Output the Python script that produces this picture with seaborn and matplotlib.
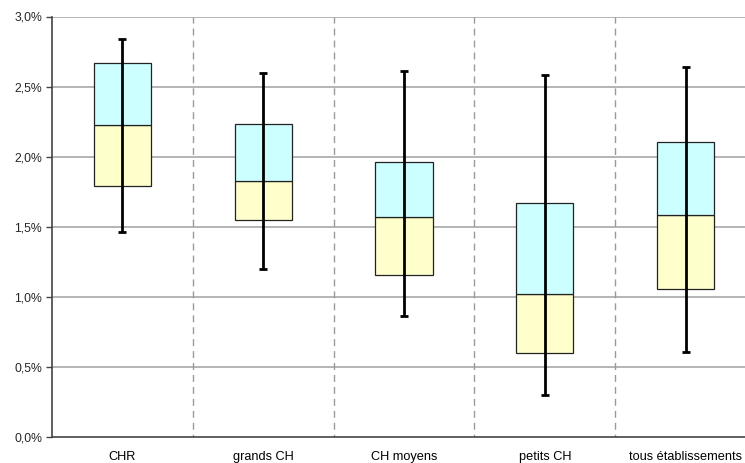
import numpy as np
import pandas as pd
import matplotlib
matplotlib.use("Agg")
import matplotlib.pyplot as plt
from matplotlib.ticker import FuncFormatter
import seaborn as sns

# values in %
categories = ["CHR", "grands CH", "CH moyens", "petits CH", "tous établissements"]
whisker_low = [1.466, 1.198, 0.864, 0.302, 0.607]
q1 = [1.788, 1.550, 1.157, 0.598, 1.057]
median = [2.229, 1.829, 1.569, 1.022, 1.586]
q3 = [2.666, 2.234, 1.959, 1.667, 2.105]
whisker_high = [2.843, 2.598, 2.609, 2.586, 2.638]

df = pd.DataFrame({
    "categorie": categories,
    "q1": q1,
    "median": median,
    "q3": q3,
    "low": whisker_low,
    "high": whisker_high,
})
df["lower_part"] = df["median"] - df["q1"]
df["upper_part"] = df["q3"] - df["median"]

sns.set_style("white")
plt.rcParams["font.family"] = ["Liberation Sans", "DejaVu Sans"]

fig = plt.figure(figsize=(7.45, 4.63), dpi=100)
ax = fig.add_axes([52 / 745, 26 / 463, 704 / 745, 420.5 / 463])

# horizontal grid
for v in np.arange(0.5, 3.01, 0.5):
    ax.axhline(v, color="#a0a0a0", lw=1.1, zorder=0)

# dashed separators between groups
for xb in np.arange(0.5, len(categories), 1.0):
    ax.axvline(xb, color="#9a9a9a", lw=1, linestyle=(3, (5, 3.6)), zorder=0)

# lower half of box (Q1 -> median) and upper half (median -> Q3)
sns.barplot(data=df, x="categorie", y="lower_part", bottom=df["q1"].values,
            color="#ffffcc", saturation=1, edgecolor="#222222", linewidth=0.9,
            width=0.405, errorbar=None, ax=ax, zorder=2)
sns.barplot(data=df, x="categorie", y="upper_part", bottom=df["median"].values,
            color="#ccffff", saturation=1, edgecolor="#222222", linewidth=0.9,
            width=0.405, errorbar=None, ax=ax, zorder=2)

# whiskers from min to max
ax.errorbar(np.arange(len(categories)), df["median"],
            yerr=[df["median"] - df["low"], df["high"] - df["median"]],
            fmt="none", ecolor="black", elinewidth=2, capsize=3, capthick=2,
            zorder=3)

ax.set_xlim(-0.5, 4.5)
ax.set_ylim(0, 3.0)
ax.set_yticks(np.arange(0, 3.01, 0.5))
ax.yaxis.set_major_formatter(FuncFormatter(lambda v, p: f"{v:.1f}%".replace(".", ",")))

ax.set_xticks(np.arange(len(categories)))
ax.set_xticklabels(categories)
ax.set_xticks(np.arange(-0.5, len(categories), 1.0), minor=True)
ax.tick_params(axis="x", which="major", length=0, pad=10, labelsize=9.2, colors="black")
ax.tick_params(axis="x", which="minor", length=4, width=1, color="#444444", direction="out")
ax.tick_params(axis="y", length=4, width=1, color="#444444", pad=3, labelsize=8.8,
               left=True, direction="out")

ax.set_xlabel("")
ax.set_ylabel("")

for side in ["top", "right"]:
    ax.spines[side].set_visible(False)
for side in ["left", "bottom"]:
    ax.spines[side].set_color("#444444")
    ax.spines[side].set_linewidth(1.2)

fig.savefig("out.png", dpi=100)
